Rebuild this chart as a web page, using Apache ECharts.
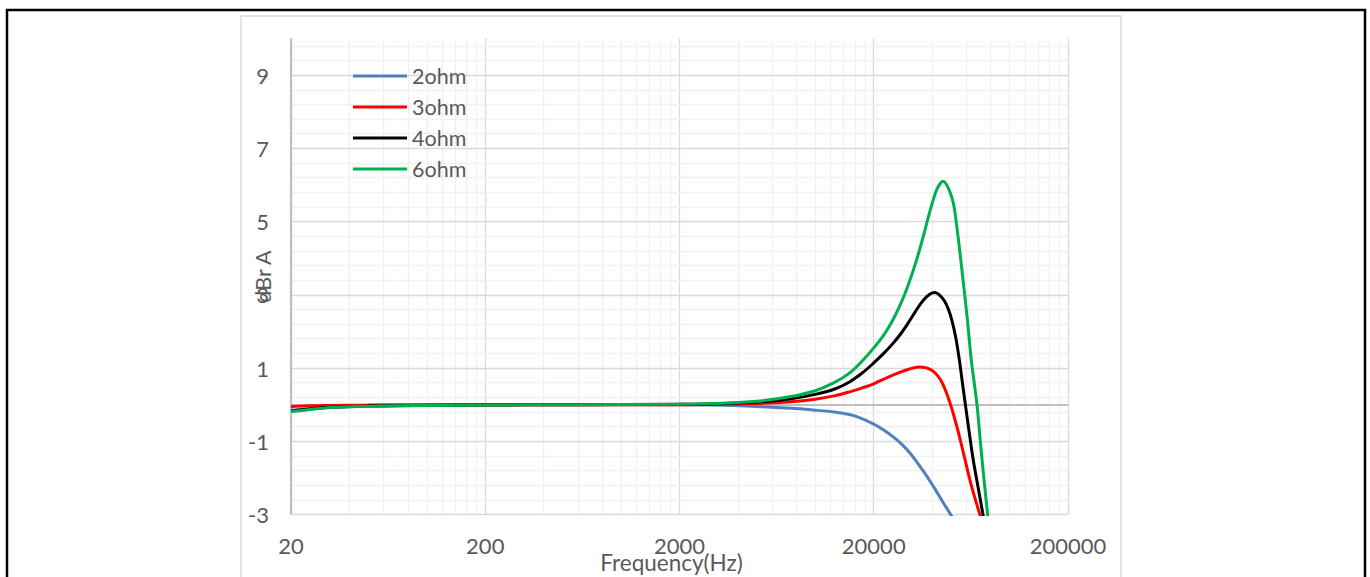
<!DOCTYPE html>
<html>
<head>
<meta charset="utf-8">
<script src="https://cdn.jsdelivr.net/npm/echarts@6/dist/echarts.min.js"></script>
<style>
  html, body { margin: 0; padding: 0; background: #ffffff; }
  #chart { width: 1370px; height: 577px; }
</style>
</head>
<body>
<div id="chart"></div>
<script>
// Frequency response of the amplifier output for several load impedances (dBr A vs Hz)
const SERIES_NAMES = ['2ohm', '3ohm', '4ohm', '6ohm'];
const SERIES_COLORS = ['#4f81bd', '#ff0000', '#000000', '#00b050'];

const FREQ_2OHM = [20, 30, 50, 100, 200, 1000, 2000, 3000, 5000, 7500, 10000, 12500, 15000, 17000, 20000, 22500, 25200, 28000, 30700, 34000, 37500, 41500, 45600, 50400, 56000, 62000];
const DB_2OHM   = [-0.15, -0.08, -0.04, -0.01, 0, 0, 0, -0.01, -0.05, -0.1, -0.15, -0.2, -0.27, -0.36, -0.53, -0.69, -0.88, -1.09, -1.32, -1.63, -1.95, -2.32, -2.68, -3.05, -3.5, -3.95];

const FREQ_3OHM = [20, 25, 30, 50, 100, 2000, 3000, 5000, 7500, 10000, 12500, 15000, 17500, 20000, 23000, 26800, 30000, 34000, 37000, 40000, 42500, 45000, 47300, 49700, 52000, 54500, 56700, 59000, 62000, 65500, 70500, 75000];
const DB_3OHM   = [-0.05, -0.03, -0.02, -0.01, 0, 0, 0.01, 0.03, 0.08, 0.15, 0.24, 0.35, 0.46, 0.57, 0.72, 0.87, 0.96, 1.03, 1.01, 0.93, 0.8, 0.6, 0.33, 0.0, -0.35, -0.75, -1.12, -1.5, -1.98, -2.45, -3.02, -3.55];

const FREQ_4OHM = [20, 25, 30, 40, 50, 100, 200, 500, 2000, 3000, 5000, 7500, 10000, 12500, 15000, 17500, 20000, 22500, 25000, 27500, 30000, 33000, 36000, 39000, 41300, 43500, 46000, 48500, 50500, 52800, 55150, 57200, 59250, 62000, 65000, 69000, 73000, 77000];
const DB_4OHM   = [-0.17, -0.12, -0.08, -0.05, -0.04, -0.02, -0.01, 0, 0.01, 0.02, 0.07, 0.16, 0.28, 0.42, 0.62, 0.87, 1.14, 1.4, 1.66, 1.93, 2.22, 2.57, 2.85, 3.02, 3.06, 3.0, 2.85, 2.6, 2.3, 1.85, 1.23, 0.6, 0.0, -0.75, -1.5, -2.28, -3.0, -3.7];

const FREQ_6OHM = [20, 25, 30, 40, 50, 70, 100, 200, 500, 2000, 3000, 5000, 7500, 10000, 12500, 15000, 17500, 20000, 22500, 25000, 27500, 30000, 33000, 36000, 39000, 42000, 44000, 45500, 47000, 49000, 51400, 53500, 55600, 58000, 60700, 63500, 65800, 68000, 70000, 72200, 74600, 77100, 80000];
const DB_6OHM   = [-0.19, -0.13, -0.09, -0.06, -0.05, -0.03, -0.02, -0.01, 0, 0.01, 0.03, 0.09, 0.22, 0.38, 0.6, 0.86, 1.2, 1.55, 1.9, 2.3, 2.75, 3.25, 3.9, 4.6, 5.3, 5.85, 6.04, 6.1, 6.04, 5.85, 5.5, 4.88, 4.14, 3.28, 2.32, 1.23, 0.6, 0.0, -0.72, -1.5, -2.25, -3.0, -3.85];

// Axis tick labels
const X_TICK_LABELS = ['20', '200', '2000', '20000', '200000'];
const Y_MIN = -3, Y_MAX = 10;

const FREQS = [FREQ_2OHM, FREQ_3OHM, FREQ_4OHM, FREQ_6OHM];
const LEVELS = [DB_2OHM, DB_3OHM, DB_4OHM, DB_6OHM];

const FONT = 'Lato, "Open Sans", sans-serif';
const TEXT_COLOR = '#595959';

// Grid lines: decades and their 2..9 subdivisions, plus 0.4 dB steps
const gridLines = [];
for (let d = 0; d < 4; d++) {
  const base = 20 * Math.pow(10, d);
  gridLines.push({ xAxis: base, lineStyle: { color: '#d9d9d9', width: 1.3, type: 'solid' } });
  for (let k = 2; k <= 9; k++) {
    gridLines.push({ xAxis: base * k, lineStyle: { color: '#f0f0f0', width: 1.3, type: 'solid' } });
  }
}
gridLines.push({ xAxis: 200000, lineStyle: { color: '#d9d9d9', width: 1.3, type: 'solid' } });
for (let i = 0; i <= 32; i++) {
  const v = Math.round((Y_MIN + i * 0.4) * 10) / 10;
  gridLines.push({ yAxis: v, lineStyle: { color: i % 5 === 0 ? '#d9d9d9' : '#f0f0f0', width: 1.3, type: 'solid' } });
}
gridLines.push({ yAxis: 0, lineStyle: { color: '#bfbfbf', width: 2, type: 'solid' } });
gridLines.push({ xAxis: 20, lineStyle: { color: '#bfbfbf', width: 2.2, type: 'solid' } });

const series = [{
  type: 'line',
  name: '_grid',
  xAxisIndex: 0,
  yAxisIndex: 0,
  data: [],
  z: 1,
  silent: true,
  markLine: {
    z: 1,
    silent: true,
    animation: false,
    symbol: ['none', 'none'],
    label: { show: false },
    emphasis: { disabled: true },
    data: gridLines
  }
}];

// Curves drawn above the grid
SERIES_NAMES.forEach((name, idx) => {
  series.push({
    type: 'line',
    name: name,
    xAxisIndex: 0,
    yAxisIndex: 0,
    z: 6,
    smooth: 0.35,
    showSymbol: false,
    symbol: 'none',
    clip: true,
    lineStyle: { color: SERIES_COLORS[idx], width: 3 },
    itemStyle: { color: SERIES_COLORS[idx] },
    data: FREQS[idx].map((f, j) => [f, LEVELS[idx][j]])
  });
});

const chart = echarts.init(document.getElementById('chart'), null, { renderer: 'svg' });
chart.setOption({
  animation: false,
  backgroundColor: '#ffffff',
  grid: { left: 291, right: 302, top: 38.5, bottom: 62.5, containLabel: false, outerBoundsMode: 'none' },
  graphic: [
    { type: 'rect', z: -10, shape: { x: 7, y: 10, width: 1358, height: 600 },
      style: { fill: 'none', stroke: '#000000', lineWidth: 2.5 } },
    { type: 'rect', z: -9, shape: { x: 241, y: 16, width: 880, height: 600 },
      style: { fill: 'none', stroke: '#d9d9d9', lineWidth: 1.5 } }
  ],
  legend: {
    data: SERIES_NAMES,
    orient: 'vertical',
    left: 353,
    top: 65,
    padding: 0,
    icon: 'rect',
    itemWidth: 54,
    itemHeight: 3,
    itemGap: 9,
    z: 10,
    textStyle: { color: TEXT_COLOR, fontFamily: FONT, fontSize: 21.5, lineHeight: 22 }
  },
  xAxis: [{
    type: 'log',
    logBase: 10,
    min: 20,
    max: 200000,
    axisLine: { show: false },
    axisTick: { show: false },
    axisLabel: { show: false },
    splitLine: { show: false },
    minorSplitLine: { show: false }
  }, {
    type: 'value',
    position: 'bottom',
    min: 0,
    max: 4,
    interval: 1,
    axisLine: { show: false },
    axisTick: { show: false },
    splitLine: { show: false },
    axisLabel: {
      margin: 20,
      color: TEXT_COLOR,
      fontFamily: FONT,
      fontSize: 22,
      formatter: v => X_TICK_LABELS[Math.round(v)] || ''
    },
    name: 'Frequency(Hz)',
    nameLocation: 'middle',
    nameGap: 36,
    nameMoveOverlap: false,
    nameTextStyle: { color: TEXT_COLOR, fontFamily: FONT, fontSize: 22.5, padding: [0, 16, 0, 0] }
  }],
  yAxis: {
    type: 'value',
    min: Y_MIN,
    max: Y_MAX,
    interval: 1,
    axisLine: { show: false, onZero: false },
    axisTick: { show: false },
    splitLine: { show: false },
    axisLabel: {
      margin: 22,
      color: TEXT_COLOR,
      fontFamily: FONT,
      fontSize: 22,
      formatter: v => (Math.abs(v % 2) === 1 ? String(v) : '')
    },
    name: 'dBr A',
    nameLocation: 'middle',
    nameGap: 17,
    nameRotate: 90,
    nameMoveOverlap: false,
    nameTextStyle: { color: TEXT_COLOR, fontFamily: FONT, fontSize: 21.5 }
  },
  series: series
});
</script>
</body>
</html>
